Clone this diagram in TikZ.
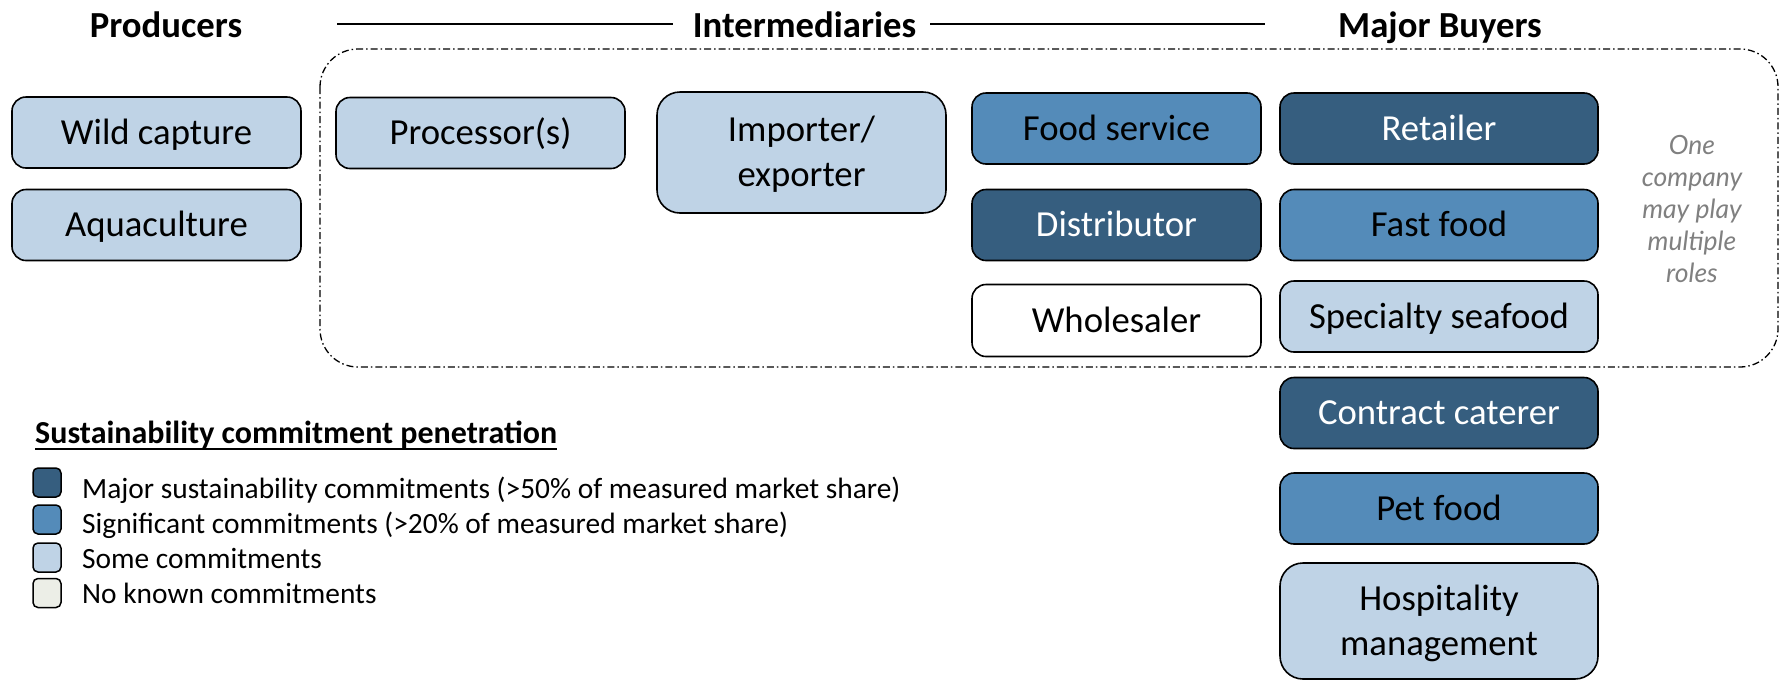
\documentclass[tikz,border=0pt]{standalone}
\usepackage{fontspec}
\setmainfont{Carlito}
\newfontfamily\notefont{Lato}
\definecolor{cLight}{RGB}{191,211,230}
\definecolor{cMid}{RGB}{84,139,185}
\definecolor{cDark}{RGB}{54,94,127}
\definecolor{cNone}{RGB}{236,238,231}
\definecolor{cGray}{RGB}{128,128,128}
\begin{document}
\begin{tikzpicture}[x=1pt,y=-1pt,
  box/.style={draw=black, line width=1.6pt, rounded corners=14pt,
    minimum width=289pt, minimum height=71pt, inner sep=0pt,
    font=\fontsize{36.7}{45}\selectfont, text height=23.2pt, text depth=0pt, align=center},
  widebox/.style={box, minimum width=318pt},
  tallbox/.style={rounded corners=23pt, text height=68.2pt, text depth=0pt},
  title/.style={font=\bfseries\fontsize{36.7}{45}\selectfont, inner sep=0pt, anchor=base},
  hline/.style={line width=1.4pt},
  dashbox/.style={line width=1.3pt, rounded corners=38pt, dash pattern=on 7pt off 3pt on 1.5pt off 3pt},
  legtitle/.style={font=\bfseries\fontsize{32}{38}\selectfont, inner sep=0pt, anchor=base west},
  legsq/.style={draw=black, line width=1.5pt, rounded corners=5pt, minimum width=28pt, minimum height=29pt, inner sep=0pt},
  legtxt/.style={font=\fontsize{29.4}{35}\selectfont, inner sep=0pt, anchor=base west},
  note/.style={font=\notefont\itshape\fontsize{26.5}{32}\selectfont, text=cGray, align=center, inner sep=0pt, anchor=base}
]
\useasboundingbox (0,0) rectangle (1779,681);

% grouping frame
\draw[dashbox] (320,49) rectangle (1778,367);

% headings
\node[title] (prod) at (166,37) {Producers};
\node[title] (inter) at (804.5,37) {Intermediaries};
\node[title] (buyers) at (1440,37) {Major Buyers};
\coordinate (l1s) at (337,24);
\coordinate (l1e) at (673,24);
\coordinate (l2s) at (930,24);
\coordinate (l2e) at (1265,24);
\draw[hline] (l1s) -- (l1e);
\draw[hline] (l2s) -- (l2e);

% producers
\node[box, fill=cLight] (wild) at (156.5,132.5) {Wild capture};
\node[box, fill=cLight] (aqua) at (156.5,225) {Aquaculture};

% intermediaries
\node[box, fill=cLight] (proc) at (480.5,133) {Processor(s)};
\node[box, tallbox, fill=cLight, minimum height=121pt] (impexp) at (801.5,152.5) {Importer/\\exporter};
\node[box, fill=cMid] (foodserv) at (1116.5,128.5) {Food service};
\node[box, fill=cDark, text=white] (distrib) at (1116.5,225) {Distributor};
\node[box, fill=white, minimum height=72pt] (whole) at (1116.5,320.5) {Wholesaler};

% major buyers
\node[widebox, fill=cDark, text=white] (retail) at (1439,128.5) {Retailer};
\node[widebox, fill=cMid] (fast) at (1439,225) {Fast food};
\node[widebox, fill=cLight] (special) at (1439,316.5) {Specialty seafood};
\node[widebox, fill=cDark, text=white] (caterer) at (1439,413) {Contract caterer};
\node[widebox, fill=cMid] (pet) at (1439,508.5) {Pet food};
\node[widebox, tallbox, fill=cLight, minimum height=116pt] (hosp) at (1439,621) {Hospitality\\management};

% note
\node[note] (roles) at (1692,282) {One\\company\\may play\\multiple\\roles};

% legend
\node[legtitle] (legt) at (35,443) {Sustainability commitment penetration};
\draw[line width=1.5pt] ([yshift=-6pt]legt.base west) -- ([yshift=-6pt]legt.base east);
\node[legsq, fill=cDark] (sq1) at (47,482.5) {};
\node[legsq, fill=cMid] (sq2) at (47,519.5) {};
\node[legsq, fill=cLight] (sq3) at (47,557.5) {};
\node[legsq, fill=cNone] (sq4) at (47,593) {};
\node[legtxt] (lt1) at (82,498) {Major sustainability commitments (>50\% of measured market share)};
\node[legtxt] (lt2) at (82,533) {Significant commitments (>20\% of measured market share)};
\node[legtxt] (lt3) at (82,568) {Some commitments};
\node[legtxt] (lt4) at (82,603) {No known commitments};
\end{tikzpicture}
\end{document}
